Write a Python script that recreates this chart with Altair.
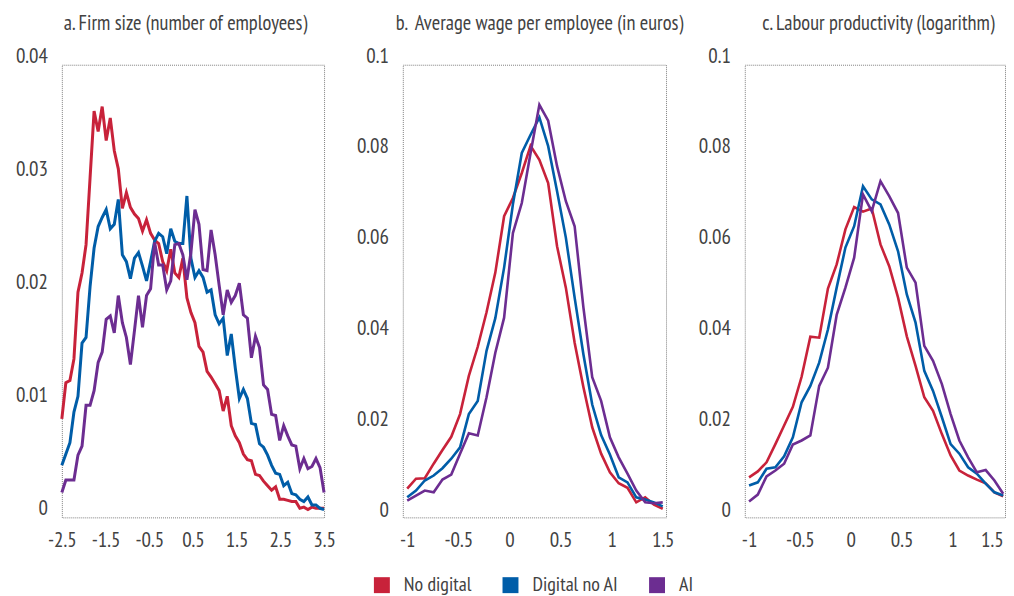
import altair as alt
import pandas as pd

FONT = "PT Sans Narrow"
TXT = "#424242"

series_names = ["No digital", "Digital no AI", "AI"]
series_colors = ["#C8223A", "#005DA8", "#6C2D91"]

# ---- Panel a: firm size ----
size_x = [-2.5, -2.408, -2.315, -2.223, -2.131, -2.038, -1.946, -1.854, -1.762, -1.669,
          -1.577, -1.485, -1.392, -1.3, -1.208, -1.115, -1.023, -0.931, -0.838, -0.746,
          -0.654, -0.562, -0.469, -0.377, -0.285, -0.192, -0.1, -0.008, 0.085, 0.177,
          0.269, 0.362, 0.454, 0.546, 0.638, 0.731, 0.823, 0.915, 1.008, 1.1,
          1.192, 1.285, 1.377, 1.469, 1.562, 1.654, 1.746, 1.838, 1.931, 2.023,
          2.115, 2.208, 2.3, 2.392, 2.485, 2.577, 2.669, 2.762, 2.854, 2.946,
          3.038, 3.131, 3.223, 3.315, 3.408, 3.5]
size_no_digital = [0.0080, 0.0112, 0.0114, 0.0133, 0.0192, 0.0209, 0.0234, 0.0293, 0.0352, 0.0334,
                   0.0356, 0.0326, 0.0346, 0.0317, 0.0301, 0.0266, 0.0280, 0.0267, 0.0261, 0.0257,
                   0.0246, 0.0256, 0.0244, 0.0238, 0.0235, 0.0219, 0.0211, 0.0230, 0.0209, 0.0205,
                   0.0222, 0.0187, 0.0174, 0.0165, 0.0144, 0.0139, 0.0122, 0.0117, 0.0111, 0.0105,
                   0.0087, 0.0100, 0.0074, 0.0065, 0.0059, 0.0049, 0.0044, 0.0043, 0.0031, 0.0030,
                   0.0025, 0.0021, 0.0017, 0.0020, 0.0009, 0.0009, 0.0008, 0.0007, 0.0007, 0.0001,
                   0.0002, 0.0000, 0.0002, 0.0001, 0.0001, 0.0001]
size_digital_no_ai = [0.0039, 0.0049, 0.0059, 0.0086, 0.0100, 0.0147, 0.0152, 0.0197, 0.0231, 0.0250,
                      0.0258, 0.0265, 0.0248, 0.0252, 0.0274, 0.0225, 0.0219, 0.0204, 0.0222, 0.0227,
                      0.0215, 0.0202, 0.0219, 0.0237, 0.0244, 0.0241, 0.0226, 0.0248, 0.0237, 0.0235,
                      0.0235, 0.0277, 0.0222, 0.0205, 0.0211, 0.0205, 0.0192, 0.0194, 0.0172, 0.0164,
                      0.0169, 0.0136, 0.0155, 0.0125, 0.0098, 0.0106, 0.0098, 0.0076, 0.0075, 0.0058,
                      0.0055, 0.0048, 0.0039, 0.0032, 0.0031, 0.0021, 0.0024, 0.0014, 0.0013, 0.0009,
                      0.0007, 0.0011, 0.0004, 0.0004, 0.0001, 0.0000]
size_ai = [0.0015, 0.0026, 0.0026, 0.0026, 0.0048, 0.0056, 0.0092, 0.0092, 0.0105, 0.0130,
           0.0139, 0.0168, 0.0171, 0.0156, 0.0189, 0.0165, 0.0152, 0.0128, 0.0158, 0.0189,
           0.0161, 0.0189, 0.0195, 0.0236, 0.0216, 0.0216, 0.0194, 0.0202, 0.0234, 0.0235,
           0.0225, 0.0203, 0.0227, 0.0265, 0.0252, 0.0212, 0.0211, 0.0247, 0.0225, 0.0198,
           0.0172, 0.0194, 0.0183, 0.0189, 0.0200, 0.0172, 0.0169, 0.0134, 0.0153, 0.0143,
           0.0110, 0.0106, 0.0084, 0.0083, 0.0061, 0.0074, 0.0065, 0.0057, 0.0056, 0.0036,
           0.0045, 0.0036, 0.0038, 0.0045, 0.0037, 0.0015]

# ---- Panels b and c share the same x grid ----
grid_x = [-1.0, -0.914, -0.828, -0.741, -0.655, -0.569, -0.483, -0.397, -0.31, -0.224,
          -0.138, -0.052, 0.034, 0.121, 0.207, 0.293, 0.379, 0.466, 0.552, 0.638,
          0.724, 0.81, 0.897, 0.983, 1.069, 1.155, 1.241, 1.328, 1.414, 1.5]

wage_no_digital = [0.0050, 0.0072, 0.0073, 0.0105, 0.0135, 0.0164, 0.0214, 0.0298, 0.0362, 0.0438,
                   0.0525, 0.0649, 0.0689, 0.0744, 0.0804, 0.0773, 0.0722, 0.0583, 0.0492, 0.0371,
                   0.0273, 0.0185, 0.0127, 0.0086, 0.0062, 0.0052, 0.0020, 0.0031, 0.0015, 0.0006]
wage_digital_no_ai = [0.0031, 0.0046, 0.0068, 0.0079, 0.0095, 0.0116, 0.0141, 0.0214, 0.0243, 0.0353,
                      0.0425, 0.0536, 0.0675, 0.0788, 0.0828, 0.0866, 0.0803, 0.0704, 0.0602, 0.0470,
                      0.0345, 0.0235, 0.0168, 0.0125, 0.0075, 0.0064, 0.0031, 0.0026, 0.0020, 0.0011]
wage_ai = [0.0024, 0.0035, 0.0046, 0.0042, 0.0070, 0.0081, 0.0127, 0.0172, 0.0167, 0.0251,
           0.0349, 0.0426, 0.0612, 0.0678, 0.0788, 0.0894, 0.0859, 0.0759, 0.0682, 0.0627,
           0.0448, 0.0295, 0.0243, 0.0163, 0.0119, 0.0083, 0.0046, 0.0020, 0.0018, 0.0020]

prod_no_digital = [0.0075, 0.0088, 0.0108, 0.0148, 0.0189, 0.0230, 0.0296, 0.0384, 0.0382, 0.0490,
                   0.0543, 0.0620, 0.0669, 0.0659, 0.0666, 0.0587, 0.0539, 0.0470, 0.0385, 0.0320,
                   0.0251, 0.0221, 0.0170, 0.0123, 0.0090, 0.0079, 0.0070, 0.0062, 0.0042, 0.0033]
prod_digital_no_ai = [0.0057, 0.0064, 0.0094, 0.0097, 0.0121, 0.0163, 0.0240, 0.0276, 0.0327, 0.0400,
                      0.0492, 0.0580, 0.0627, 0.0715, 0.0686, 0.0675, 0.0631, 0.0572, 0.0477, 0.0415,
                      0.0309, 0.0265, 0.0207, 0.0148, 0.0127, 0.0097, 0.0083, 0.0061, 0.0042, 0.0035]
prod_ai = [0.0022, 0.0037, 0.0077, 0.0090, 0.0105, 0.0147, 0.0156, 0.0167, 0.0276, 0.0316,
           0.0432, 0.0492, 0.0558, 0.0697, 0.0660, 0.0726, 0.0693, 0.0656, 0.0536, 0.0503,
           0.0364, 0.0331, 0.0280, 0.0214, 0.0156, 0.0119, 0.0086, 0.0091, 0.0068, 0.0039]

titles = ["a. Firm size (number of employees)",
          "b.\u00a0 Average wage per employee (in euros)",
          "c. Labour productivity (logarithm)"]
size_xticks = [-2.5, -1.5, -0.5, 0.5, 1.5, 2.5, 3.5]
grid_xticks = [-1, -0.5, 0, 0.5, 1, 1.5]
size_yticks = [0, 0.01, 0.02, 0.03, 0.04]
size_ylabels = ["0", "0.01", "0.02", "0.03", "0.04"]
grid_yticks = [0, 0.02, 0.04, 0.06, 0.08, 0.1]
grid_ylabels = ["0", "0.02", "0.04", "0.06", "0.08", "0.1"]


def long_df(xs, ys_list):
    rows = []
    for name, ys in zip(series_names, ys_list):
        for i, (xv, yv) in enumerate(zip(xs, ys)):
            rows.append({"x": xv, "y": yv, "group": name, "order": i})
    return pd.DataFrame(rows)


color_scale = alt.Scale(domain=series_names, range=series_colors)
H = 454


def panel(df, xdom, xticks, ydom, yticks, ylabels, title, title_cx, width, sw, legend, flush):
    xs = alt.Scale(domain=xdom, nice=False, zero=False)
    ys = alt.Scale(domain=ydom, nice=False, zero=False)
    xaxis = alt.Axis(values=xticks, title=None, grid=False, ticks=False, domain=False,
                     labelFont=FONT, labelFontSize=21, labelColor=TXT, labelPadding=12,
                     labelExpr="toString(datum.value)", labelFlush=flush, labelOverlap=False)
    layers = []
    if legend:
        leg = alt.Chart(df).mark_point(filled=True, shape="square", opacity=1).encode(
            x=alt.X("x:Q", scale=xs, axis=xaxis),
            y=alt.Y("y:Q", scale=ys, axis=None),
            color=alt.Color("group:N", scale=color_scale, sort=series_names,
                            legend=alt.Legend(orient="none", legendX=311, legendY=512,
                                              direction="horizontal", title=None, padding=0,
                                              symbolType="square", symbolSize=256,
                                              symbolStrokeWidth=0, symbolOpacity=1,
                                              labelFont=FONT, labelFontSize=20,
                                              labelColor=TXT, labelOffset=12,
                                              columnPadding=29)),
        ).transform_filter("false")
        layers.append(leg)
    lines = alt.Chart(df).mark_line(strokeWidth=sw).encode(
        x=alt.X("x:Q", scale=xs, axis=xaxis),
        y=alt.Y("y:Q", scale=ys, axis=None),
        color=alt.Color("group:N", scale=color_scale, sort=series_names),
        order="order:Q",
    )
    ydf = pd.DataFrame({"v": yticks, "lab": ylabels})
    ylab = alt.Chart(ydf).mark_text(align="right", baseline="middle", font=FONT,
                                   fontSize=21, color=TXT).encode(
        x=alt.value(-14), y=alt.Y("v:Q", scale=ys, axis=None), text="lab:N")
    tdf = pd.DataFrame({"t": [title]})
    ttl = alt.Chart(tdf).mark_text(align="center", baseline="middle", font=FONT,
                                  fontSize=20.5, color=TXT).encode(
        x=alt.value(title_cx), y=alt.value(-41), text="t:N")
    layers += [lines, ylab, ttl]
    return alt.layer(*layers).properties(width=width, height=H)


df_a = long_df(size_x, [size_no_digital, size_digital_no_ai, size_ai])
df_b = long_df(grid_x, [wage_no_digital, wage_digital_no_ai, wage_ai])
df_c = long_df(grid_x, [prod_no_digital, prod_digital_no_ai, prod_ai])

pa = panel(df_a, [-2.5, 3.5], size_xticks, [-0.0007, 0.0393], size_yticks, size_ylabels,
           titles[0], 124, 263, 3, True, False)
pb = panel(df_b, [-1.043, 1.532], grid_xticks, [-0.0013, 0.0982], grid_yticks, grid_ylabels,
           titles[1], 137, 264, 2.6, False, False)
pc = panel(df_c, [-1.042, 1.518], grid_xticks, [-0.0013, 0.0982], grid_yticks, grid_ylabels,
           titles[2], 134, 261, 2.6, False, 3)

chart = alt.hconcat(pa, pb, pc, spacing=79, bounds="flush").resolve_scale(
    x="independent", y="independent", color="shared"
).properties(
    padding={"left": 7, "top": 4, "right": -3, "bottom": 6}
).configure_view(
    stroke="#808080", strokeDash=[1, 1], strokeWidth=1
)

chart.save("out.html", embed_options={"renderer": "svg", "actions": False})
